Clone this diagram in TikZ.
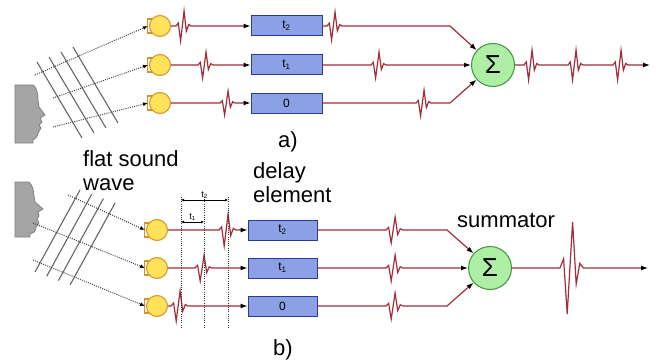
\documentclass[tikz,border=0pt]{standalone}
\usepackage{fontspec}
\setmainfont{Liberation Sans}
\usetikzlibrary{arrows.meta}

\definecolor{segnale}{RGB}{160,45,55}
\definecolor{micgiallo}{RGB}{255,226,90}
\definecolor{micbordo}{RGB}{215,145,40}
\definecolor{bluritardo}{RGB}{140,160,230}
\definecolor{bordoblu}{RGB}{40,60,150}
\definecolor{verdesomma}{RGB}{175,238,165}
\definecolor{bordoverde}{RGB}{60,150,60}
\definecolor{volto}{RGB}{165,165,165}

\tikzset{
  mic/.style={circle, draw=micbordo, fill=micgiallo, line width=1pt, minimum size=21pt, inner sep=0pt},
  ritardo/.style={rectangle, draw=bordoblu, fill=bluritardo, line width=1pt, minimum width=71pt, minimum height=20pt, inner sep=0pt, font=\fontsize{12}{12}\selectfont},
  somma/.style={circle, draw=bordoverde, fill=verdesomma, line width=1pt, minimum size=43pt, inner sep=0pt, font=\fontsize{26}{26}\selectfont},
  segn/.style={draw=segnale, line width=1.2pt, -{Latex[length=7pt,width=5pt,color=black]}},
  onda/.style={draw=black!60, line width=1.1pt},
  raggio/.style={dash pattern=on 1pt off 1.2pt, draw=black!75, line width=1pt, -{Latex[length=5pt,width=4pt,color=black]}},
  guida/.style={dash pattern=on 1pt off 1.2pt, draw=black!80, line width=1pt},
  quota/.style={draw=black, line width=0.7pt, {Latex[length=3pt,width=3pt]}-{Latex[length=3pt,width=3pt]}},
  testo/.style={font=\fontsize{22}{24}\selectfont, inner sep=0pt},
  % impulso: #1 ampiezza, #2 scala orizzontale
  wv/.style 2 args={insert path={
    -- ++({2*#2},{-0.2*#1}) -- ++({2*#2},{1.2*#1}) -- ++({3*#2},{-2*#1})
    -- ++({2*#2},{1.35*#1}) -- ++({2*#2},{-0.45*#1}) -- ++({2*#2},{0.1*#1})}}
}

\begin{document}
\begin{tikzpicture}[x=1pt, y=-1pt]
  \useasboundingbox (0,0) rectangle (656,361);

  % 1. Profili delle teste che parlano
  \draw[fill=volto, draw=black!50, line width=0.8pt] (15,85) -- (33,85)
    .. controls (36,87) and (38,92) .. (38,100) -- (39,107) -- (45,115) -- (40,118)
    -- (42,122) -- (39,125) -- (41,128) -- (38,133) .. controls (37,137) .. (33,140)
    -- (33,143) -- (15,143) -- cycle;
  \draw[fill=volto, draw=black!50, line width=0.8pt] (15,182) -- (29,182)
    .. controls (32,185) and (34,190) .. (34,196) -- (35,202) -- (43,209) -- (38,212)
    -- (39,216) -- (37,219) -- (39,223) -- (36,227) .. controls (35,232) .. (30,234)
    -- (30,237) -- (15,237) -- cycle;

  % 2. Fronti d'onda piane
  \foreach \i in {0,...,3}
    \draw[onda] ({37+12*\i},{62-5*\i}) -- ++(45,76);
  \foreach \i in {0,...,3}
    \draw[onda] ({35+11.7*\i},{272+4.3*\i}) -- ++(45,-82);

  % 3. Microfoni e linee di ritardo (caso a)
  \foreach \n/\y/\t in {1/26/t\textsubscript{2}, 2/65/t\textsubscript{1}, 3/103/0} {
    \node[mic] (ma\n) at (160,\y) {};
    \draw[micbordo, line width=1.3pt] ([shift={(3,-7)}]ma\n.west) -- ++(-4.5,0) -- ++(0,14) -- ++(4.5,0);
    \node[ritardo] (da\n) at (286.5,\y) {\t};
  }
  \node[somma] (suma) at (493,65) {Σ};
  \coordinate (outa) at (650,65);

  % 4. Microfoni e linee di ritardo (caso b)
  \foreach \n/\y/\t in {1/230/t\textsubscript{2}, 2/268/t\textsubscript{1}, 3/306/0} {
    \node[mic] (mb\n) at (157,\y) {};
    \draw[micbordo, line width=1.3pt] ([shift={(3,-7)}]mb\n.west) -- ++(-4.5,0) -- ++(0,14) -- ++(4.5,0);
    \node[ritardo, minimum width=69pt] (db\n) at (282.5,\y) {\t};
  }
  \node[somma] (sumb) at (490,268) {Σ};
  \coordinate (outb) at (648,268);

  % 5. Raggi tratteggiati verso i microfoni
  \coordinate (ra1) at (35,75);
  \coordinate (ra2) at (53,98);
  \coordinate (ra3) at (53,127);
  \coordinate (rb1) at (68,195);
  \coordinate (rb2) at (33,223);
  \coordinate (rb3) at (33,260);
  \foreach \n in {1,2,3} {
    \draw[raggio] (ra\n) -- ([xshift=-1pt]ma\n.west);
    \draw[raggio] (rb\n) -- ([xshift=-1pt]mb\n.west);
  }

  % 6. Segnali del caso a
  \foreach \n/\y/\xa/\ampa/\xb/\ampb in {1/26/176/15/327/14, 2/65/198/13/371/13, 3/103/220/12/416/13} {
    \draw[segn] (ma\n.east) -- (\xa,\y) [wv={\ampa}{1.15}] -- (da\n.west);
    \draw[segn] (da\n.east) -- (\xb,\y) [wv={\ampb}{1.15}] -- (450,\y) -- (suma);
  }
  \draw[segn] (suma) -- (524,65) [wv={15}{1.15}] -- (568,65) [wv={15}{1.15}]
    -- (613,65) [wv={15}{1.15}] -- (outa);

  % 7. Segnali del caso b
  \foreach \n/\y/\xa/\ampa in {1/230/219/16, 2/268/195/13, 3/306/171/15} {
    \draw[segn] (mb\n.east) -- (\xa,\y) [wv={\ampa}{1.3}] -- (db\n.west);
    \draw[segn] (db\n.east) -- (386,\y) [wv={13}{1.3}] -- (447,\y) -- (sumb);
  }
  \draw[segn] (sumb) -- (560,268) [wv={46}{1.8}] -- (outb);

  % 8. Linee guida e quote dei ritardi
  \foreach \g/\x in {0/181, 1/204, 2/228} {
    \coordinate (g\g) at (\x,197);
    \draw[guida] (g\g) -- ++(0,131);
  }
  \draw[quota] ([yshift=-3pt]g0) -- ([yshift=-3pt]g2)
    node[midway, above=1pt, font=\fontsize{9}{9}\selectfont, inner sep=0pt] (lt2) {t\textsubscript{2}};
  \draw[quota] ([yshift=-25pt]g0) -- ([yshift=-25pt]g1)
    node[midway, above=1pt, font=\fontsize{9}{9}\selectfont, inner sep=0pt] (lt1) {t\textsubscript{1}};

  % 9. Etichette
  \node[testo, anchor=north west, align=left] (flat) at (83,150) {flat sound\\wave};
  \node[testo, anchor=north west, align=left] (delay) at (253,162) {delay\\element};
  \node[testo, anchor=base west] (summ) at (457,227) {summator};
  \node[testo, anchor=base] (pa) at (288,147) {a)};
  \node[testo, anchor=base] (pb) at (283,355) {b)};

\end{tikzpicture}
\end{document}
